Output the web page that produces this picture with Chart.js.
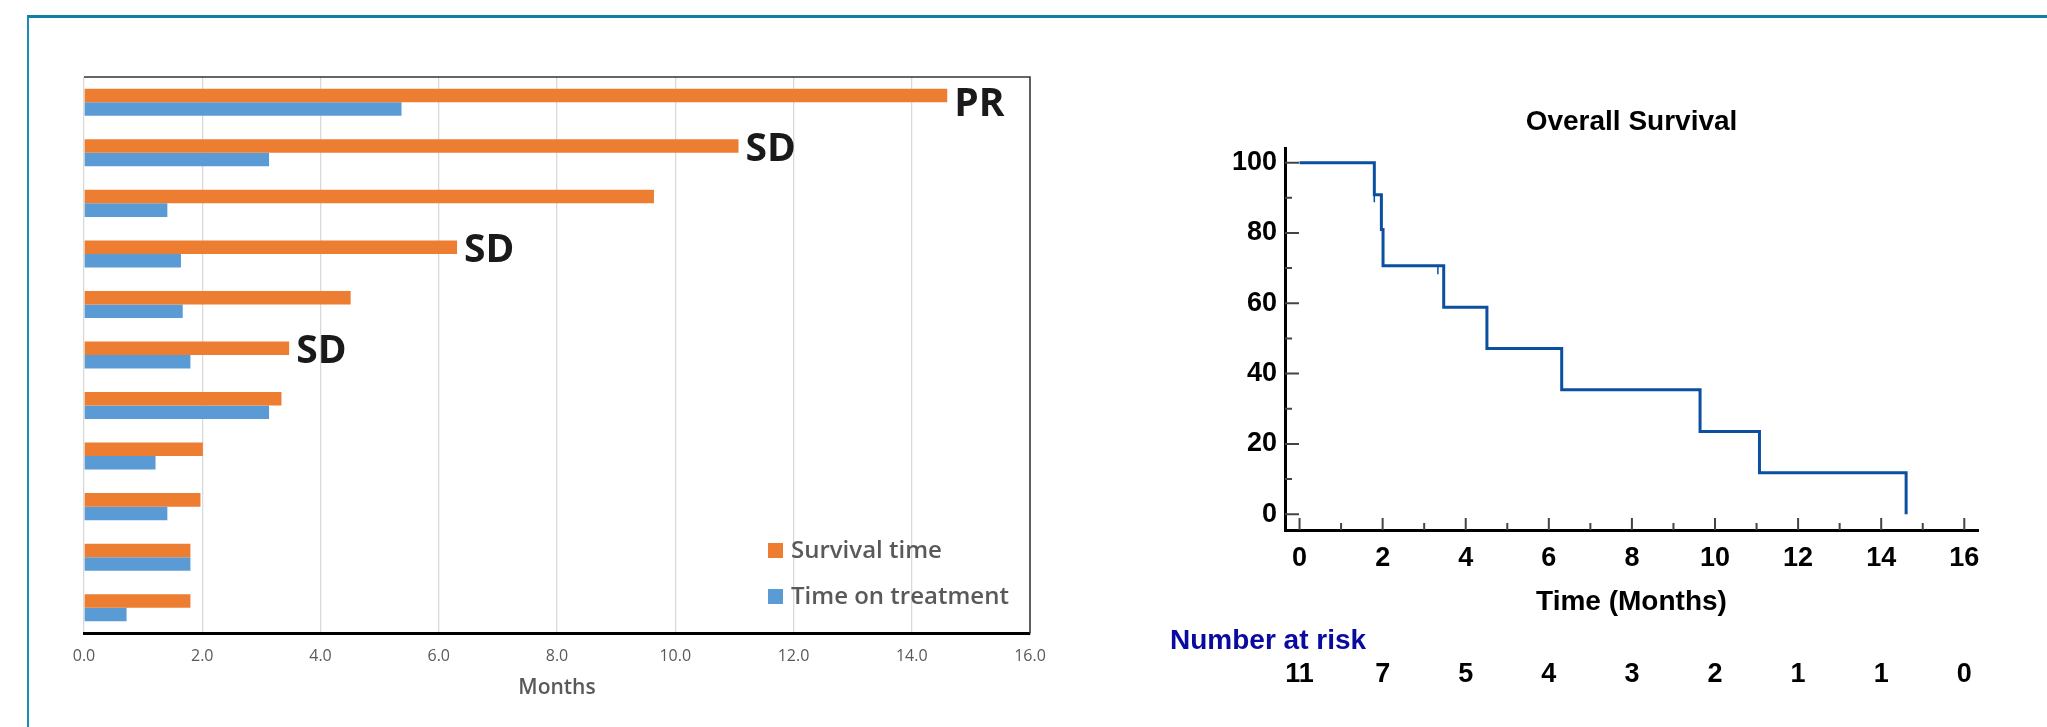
<!DOCTYPE html>
<html>
<head>
<meta charset="utf-8">
<script src="https://cdn.jsdelivr.net/npm/chart.js@4.4.1/dist/chart.umd.min.js"></script>
<style>
  html, body { margin: 0; padding: 0; background: #fff; }
  body { width: 2047px; height: 727px; position: relative; overflow: hidden; }
  .frame { position: absolute; left: 27px; top: 15px; width: 2100px; height: 800px;
           border-top: 3px solid #127ea8; border-left: 2px solid #1a8cb8; }
  #barWrap { position: absolute; left: 0; top: 0; width: 1140px; height: 727px; }
  #kmWrap { position: absolute; left: 1150px; top: 60px; width: 897px; height: 667px; }
</style>
</head>
<body>
<div class="frame"></div>
<div id="barWrap"><canvas id="barChart" width="1140" height="727"></canvas></div>
<div id="kmWrap"><canvas id="kmChart" width="897" height="667"></canvas></div>
<script>
// --- Data: swimmer plot ---
const patients = ['1', '2', '3', '4', '5', '6', '7', '8', '9', '10', '11'];
const survivalTime = [14.60, 11.07, 9.64, 6.31, 4.51, 3.47, 3.34, 2.01, 1.97, 1.80, 1.80];
const timeOnTreatment = [5.37, 3.13, 1.41, 1.64, 1.67, 1.80, 3.13, 1.21, 1.41, 1.80, 0.72];
const bestResponse = ['PR', 'SD', '', 'SD', '', 'SD', '', '', '', '', ''];
const monthTicks = [0, 2, 4, 6, 8, 10, 12, 14, 16];

// --- Data: Kaplan-Meier ---
const kmTimes = [0, 1.80, 1.97, 2.01, 3.47, 4.51, 6.31, 9.64, 11.07, 14.60];
const kmSurvival = [100, 90.9, 81.0, 70.7, 58.9, 47.1, 35.4, 23.5, 11.8, 0];
const censorTimes = [1.80, 3.33];
const censorSurvival = [90.0, 69.5];
const kmYTicks = [0, 20, 40, 60, 80, 100];
const kmYMinor = [10, 30, 50, 70, 90];
const kmXTicks = [0, 2, 4, 6, 8, 10, 12, 14, 16];
const kmXMinor = [1, 3, 5, 7, 9, 11, 13, 15];
const numberAtRisk = [11, 7, 5, 4, 3, 2, 1, 1, 0];

const OPEN = "'Open Sans', sans-serif";
const ARIAL = "'Liberation Sans', Arial, sans-serif";
const ORANGE = '#ED7D31';
const BLUE = '#5B9BD5';
const KM_BLUE = '#0b4f9f';

// --- Swimmer plot extras: frame, response labels, legend ---
const barExtras = {
  id: 'barExtras',
  afterDraw(chart) {
    const { ctx, chartArea: a, scales: { x, y } } = chart;
    ctx.save();
    // top / right frame
    ctx.strokeStyle = '#333';
    ctx.lineWidth = 1.5;
    ctx.beginPath();
    ctx.moveTo(a.left, a.top);
    ctx.lineTo(a.right, a.top);
    ctx.lineTo(a.right, a.bottom);
    ctx.stroke();

    // response labels (PR sits a little lower than the SD ones)
    ctx.font = `bold 39px ${OPEN}`;
    ctx.fillStyle = '#1a1a1a';
    ctx.textBaseline = 'middle';
    ctx.textAlign = 'left';
    bestResponse.forEach((r, i) => {
      if (!r) return;
      const dy = r === 'PR' ? 3 : -3;
      ctx.fillText(r, x.getPixelForValue(survivalTime[i]) + 7, y.getPixelForValue(i) + dy);
    });

    // legend
    const lx = a.right - 262;
    ctx.font = `600 24px ${OPEN}`;
    chart.data.datasets.forEach((ds, i) => {
      const cy = a.bottom - 82 + i * 46;
      ctx.fillStyle = ds.backgroundColor;
      ctx.fillRect(lx, cy - 8, 15, 15);
      ctx.fillStyle = '#595959';
      ctx.fillText(ds.label, lx + 23, cy);
    });
    ctx.restore();
  }
};

new Chart(document.getElementById('barChart'), {
  type: 'bar',
  data: {
    labels: patients,
    datasets: [
      { label: 'Survival time', data: survivalTime, backgroundColor: ORANGE,
        categoryPercentage: 0.535, barPercentage: 1.0 },
      { label: 'Time on treatment', data: timeOnTreatment, backgroundColor: BLUE,
        categoryPercentage: 0.535, barPercentage: 1.0 }
    ]
  },
  options: {
    indexAxis: 'y',
    responsive: false,
    animation: false,
    layout: { padding: { left: 84, top: 77, right: 110, bottom: 26 } },
    plugins: { legend: { display: false }, tooltip: { enabled: false } },
    scales: {
      x: {
        min: 0, max: 16,
        afterBuildTicks: s => { s.ticks = monthTicks.map(v => ({ value: v })); },
        grid: { color: '#d9d9d9', lineWidth: 1.3, drawTicks: false },
        border: { display: true, color: '#000', width: 3 },
        ticks: { padding: 14, color: '#595959', font: { family: OPEN, size: 16 },
                 callback: v => Number(v).toFixed(1) },
        title: { display: true, text: 'Months', color: '#595959', padding: 0,
                 font: { family: OPEN, size: 21, weight: '600' } },
        afterFit: s => { s.height = 68; }
      },
      y: { display: false }
    }
  },
  plugins: [barExtras]
});

// --- KM extras: inward ticks, number at risk ---
const kmExtras = {
  id: 'kmExtras',
  afterDatasetsDraw(chart) {
    const { ctx, chartArea: a, scales: { x, y } } = chart;
    ctx.save();
    ctx.strokeStyle = '#444';
    ctx.lineWidth = 2;
    ctx.beginPath();
    kmYTicks.forEach(v => { const py = y.getPixelForValue(v); ctx.moveTo(a.left, py); ctx.lineTo(a.left + 14, py); });
    kmYMinor.forEach(v => { const py = y.getPixelForValue(v); ctx.moveTo(a.left, py); ctx.lineTo(a.left + 7, py); });
    kmXTicks.forEach(v => { const px = x.getPixelForValue(v); ctx.moveTo(px, a.bottom); ctx.lineTo(px, a.bottom - 12); });
    kmXMinor.forEach(v => { const px = x.getPixelForValue(v); ctx.moveTo(px, a.bottom); ctx.lineTo(px, a.bottom - 7); });
    ctx.stroke();

    // number at risk
    ctx.textBaseline = 'middle';
    ctx.textAlign = 'left';
    ctx.font = `bold 28px ${ARIAL}`;
    ctx.fillStyle = '#0a0aa0';
    ctx.fillText('Number at risk', 20, a.bottom + 111);
    ctx.textAlign = 'center';
    ctx.font = `bold 27px ${ARIAL}`;
    ctx.fillStyle = '#000';
    numberAtRisk.forEach((n, i) => {
      ctx.fillText(String(n), x.getPixelForValue(kmXTicks[i]), a.bottom + 145);
    });
    ctx.restore();
  }
};

new Chart(document.getElementById('kmChart'), {
  type: 'line',
  data: {
    datasets: [
      { label: 'Overall survival', data: kmTimes.map((t, i) => ({ x: t, y: kmSurvival[i] })),
        stepped: 'before', borderColor: KM_BLUE, borderWidth: 3, pointRadius: 0, fill: false },
      { label: 'Censored', data: censorTimes.map((t, i) => ({ x: t, y: censorSurvival[i] })),
        showLine: false, pointStyle: 'line', rotation: 90, pointRadius: 4.5,
        borderColor: KM_BLUE, borderWidth: 1.5 }
    ]
  },
  options: {
    responsive: false,
    animation: false,
    layout: { padding: { left: 0, top: 45, right: 69, bottom: 108 } },
    plugins: {
      legend: { display: false },
      tooltip: { enabled: false },
      title: { display: true, text: 'Overall Survival', fullSize: false, color: '#000',
               font: { family: ARIAL, size: 28, weight: 'bold' }, padding: { top: 0, bottom: 10 } }
    },
    scales: {
      x: {
        type: 'linear', min: -0.35, max: 16.33,
        afterBuildTicks: s => { s.ticks = kmXTicks.map(v => ({ value: v })); },
        grid: { display: false, drawTicks: false },
        border: { display: true, color: '#000', width: 3 },
        ticks: { padding: 12, color: '#000', font: { family: ARIAL, size: 27, weight: 'bold' } },
        title: { display: true, text: 'Time (Months)', color: '#000', padding: 0,
                 font: { family: ARIAL, size: 28, weight: 'bold' } },
        afterFit: s => { s.height = 89; }
      },
      y: {
        type: 'linear', min: -4.5, max: 104,
        afterBuildTicks: s => { s.ticks = kmYTicks.map(v => ({ value: v })); },
        grid: { display: false, drawTicks: false },
        border: { display: true, color: '#000', width: 3 },
        ticks: { padding: 8, color: '#000', font: { family: ARIAL, size: 27, weight: 'bold' } },
        afterFit: s => { s.width = 135; }
      }
    }
  },
  plugins: [kmExtras]
});
</script>
</body>
</html>
